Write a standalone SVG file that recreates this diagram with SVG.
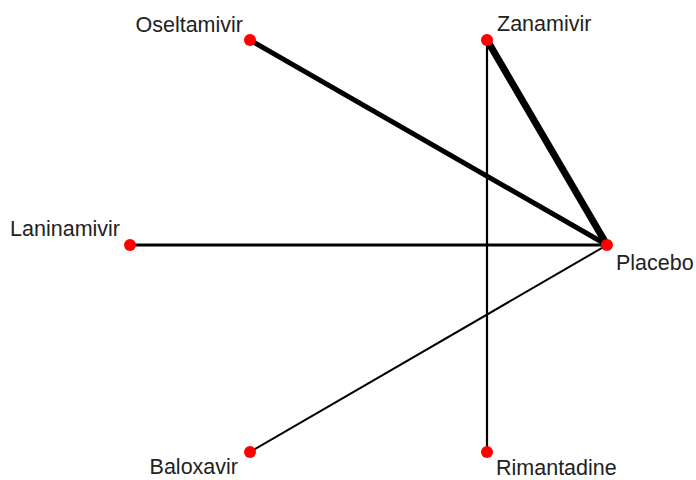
<svg xmlns="http://www.w3.org/2000/svg" width="696" height="480" viewBox="0 0 696 480">
<style>
.e{stroke:#000;stroke-linecap:butt;fill:none}
.n{fill:#ff0000}
.t{font-family:"Liberation Sans",Arial,sans-serif;font-size:21.5px;fill:#222}
</style>
<rect width="696" height="480" fill="#fff"/>
<g id="connectors">
<line class="e" x1="250" y1="40" x2="607" y2="245" stroke-width="5"/>
<line class="e" x1="487" y1="40" x2="607" y2="245" stroke-width="7"/>
<line class="e" x1="130" y1="245" x2="607" y2="245" stroke-width="3"/>
<line class="e" x1="250" y1="452" x2="607" y2="245" stroke-width="2"/>
<line class="e" x1="487" y1="40" x2="487" y2="452" stroke-width="2.2"/>
</g>
<g id="Oseltamivir"><circle class="n" cx="250" cy="40" r="6"/><text class="t" x="243" y="32" text-anchor="end">Oseltamivir</text></g>
<g id="Zanamivir"><circle class="n" cx="487" cy="40" r="6"/><text class="t" x="497" y="31">Zanamivir</text></g>
<g id="Laninamivir"><circle class="n" cx="130" cy="245" r="6"/><text class="t" x="120" y="236" text-anchor="end">Laninamivir</text></g>
<g id="Placebo"><circle class="n" cx="607" cy="245" r="6"/><text class="t" x="616" y="270">Placebo</text></g>
<g id="Baloxavir"><circle class="n" cx="250" cy="452" r="6"/><text class="t" x="238" y="474" text-anchor="end">Baloxavir</text></g>
<g id="Rimantadine"><circle class="n" cx="487" cy="452" r="6"/><text class="t" x="496" y="475">Rimantadine</text></g>
</svg>
